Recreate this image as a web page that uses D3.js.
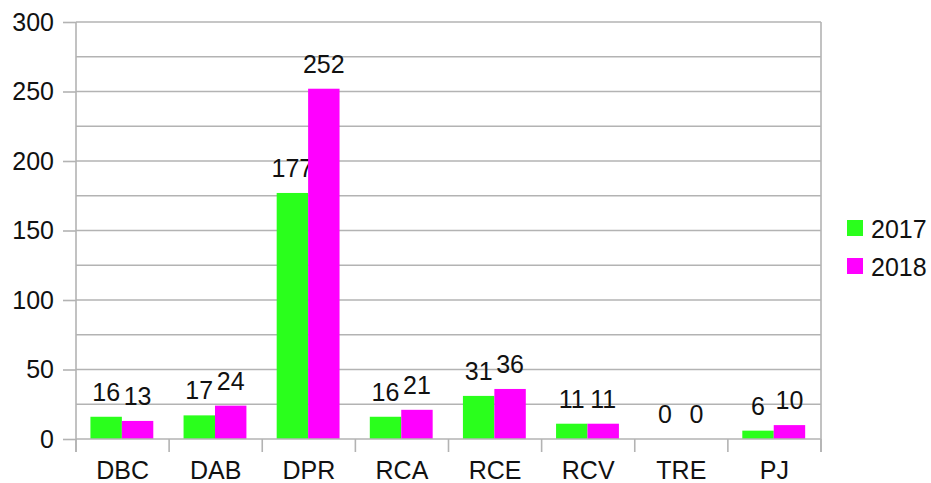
<!DOCTYPE html>
<html><head><meta charset="utf-8">
<script src="https://cdn.jsdelivr.net/npm/d3@7"></script>
<style>body{margin:0;background:#fff}svg{display:block}text{font-family:"Liberation Sans",Arial,sans-serif}</style>
</head><body><svg id="c" width="931" height="483"></svg>
<script>
const categories = ["DBC","DAB","DPR","RCA","RCE","RCV","TRE","PJ"];
const series = ["2017","2018"];
const values2017 = [16,17,177,16,31,11,0,6];
const values2018 = [13,24,252,21,36,11,0,10];
const yTicks = [0,50,100,150,200,250,300];
const gridValues = [25,50,75,100,125,150,175,200,225,250,275,300];
const colors = ["#2aff1c","#ff00ff"];

const svg = d3.select("#c");
const L=76,R=821,T=22,B=439;
const FS=25;
const x = d3.scaleBand().domain(categories).range([L,R]).paddingInner(0).paddingOuter(0);
const inner = d3.scaleBand().domain(series).range([x.bandwidth()*0.155, x.bandwidth()*0.83]);
const y = d3.scaleLinear().domain([0,300]).range([B,T]);
const grid="#b3b3b3";

// gridlines
svg.append("g").selectAll("line").data(gridValues).join("line")
  .attr("x1",L).attr("x2",R).attr("y1",d=>y(d)).attr("y2",d=>y(d))
  .attr("stroke",grid).attr("stroke-width",1.6);

// bars
const data = categories.map((c,i)=>({c, v:[values2017[i],values2018[i]]}));
const g = svg.append("g");
data.forEach(d=>{
  d.v.forEach((v,j)=>{
    const bx = x(d.c)+inner(series[j]);
    g.append("rect").attr("x",bx).attr("width",inner.bandwidth())
      .attr("y",y(v)).attr("height",B-y(v)).attr("fill",colors[j]);
    g.append("text").attr("x",bx+inner.bandwidth()/2).attr("y",y(v)-16)
      .attr("text-anchor","middle").attr("font-size",FS).attr("fill","#111").text(v);
  });
});

// y axis
const ya = svg.append("g").attr("transform",`translate(${L},0)`)
  .call(d3.axisLeft(y).tickValues(yTicks).tickSize(13).tickPadding(9));
ya.select(".domain").remove();
ya.selectAll("line").attr("stroke",grid).attr("stroke-width",1.6);
ya.selectAll("text").attr("font-size",FS).attr("fill","#111").attr("font-family","Liberation Sans, Arial, sans-serif");
svg.append("line").attr("x1",L).attr("x2",L).attr("y1",T).attr("y2",B+13).attr("stroke",grid).attr("stroke-width",1.6);
svg.append("line").attr("x1",R).attr("x2",R).attr("y1",T).attr("y2",B+13).attr("stroke",grid).attr("stroke-width",1.6);
svg.append("line").attr("x1",L).attr("x2",R).attr("y1",B).attr("y2",B).attr("stroke",grid).attr("stroke-width",1.6);

// x ticks at boundaries
const bounds = categories.map(c=>x(c)).concat([R]);
svg.append("g").selectAll("line").data(bounds).join("line")
  .attr("x1",d=>d).attr("x2",d=>d).attr("y1",B).attr("y2",B+13)
  .attr("stroke",grid).attr("stroke-width",1.6);
svg.append("g").selectAll("text").data(categories).join("text")
  .attr("x",d=>x(d)+x.bandwidth()/2).attr("y",479).attr("text-anchor","middle")
  .attr("font-size",FS).attr("fill","#111").text(d=>d);

// legend
const lg = svg.append("g");
series.forEach((s,i)=>{
  lg.append("rect").attr("x",847).attr("y",220+i*38).attr("width",16).attr("height",16).attr("fill",colors[i]);
  lg.append("text").attr("x",871).attr("y",238+i*38).attr("font-size",FS).attr("fill","#111").text(s);
});
</script></body></html>
